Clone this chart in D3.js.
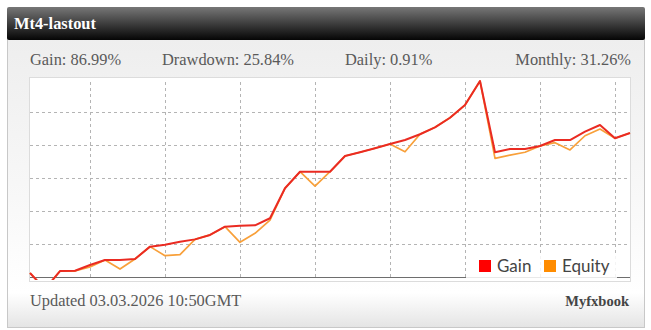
<!DOCTYPE html>
<html>
<head>
<meta charset="utf-8">
<script src="https://cdn.jsdelivr.net/npm/d3@7"></script>
<style>
  body { margin: 0; background: #fff; }
  svg { display: block; }
</style>
</head>
<body>
<script>
'use strict'

// one point per trade, values in %
const points = d3.range(41);
const gain = [2.1, -7.6, 3.3, 3.5, 7.0, 10.0, 10.0, 10.6, 18.1, 19.3,
              21.1, 22.5, 25.2, 30.2, 30.8, 31.0, 35.3, 53.5, 63.5, 63.5,
              63.5, 73.0, 75.3, 77.7, 80.3, 82.7, 86.2, 90.4, 96.2, 103.9,
              118.5, 75.3, 77.3, 77.3, 79.1, 82.7, 82.7, 87.8, 91.8, 83.8,
              86.99];
const equity = [2.1, -7.6, 3.3, 3.3, 5.8, 10.0, 4.5, 10.6, 18.1, 12.6,
                13.3, 22.5, 25.2, 30.2, 20.7, 26.2, 34.2, 53.5, 63.5, 54.8,
                63.5, 73.0, 75.3, 77.7, 80.3, 75.6, 86.2, 90.4, 96.2, 103.9,
                118.5, 71.6, 73.6, 75.3, 79.1, 81.1, 76.7, 85.3, 89.4, 83.8,
                86.99];
const yTicks = [20, 40, 60, 80, 100];
const xTicks = [4, 9, 14, 19, 24, 29, 34, 39];
const stats = ["Gain: 86.99%", "Drawdown: 25.84%", "Daily: 0.91%", "Monthly: 31.26%"];

const w = 651;
const h = 330;
const serif = "'Liberation Serif', 'DejaVu Serif', serif";

const svg = d3.select("body")
	.append("svg")
	.attr("width", w)
	.attr("height", h);

const defs = svg.append("defs");

const headGrad = defs.append("linearGradient")
	.attr("id", "head").attr("x1", 0).attr("y1", 0).attr("x2", 0).attr("y2", 1);
headGrad.append("stop").attr("offset", "0%").attr("stop-color", "#777");
headGrad.append("stop").attr("offset", "100%").attr("stop-color", "#050505");

const bodyGrad = defs.append("linearGradient")
	.attr("id", "bodybg").attr("x1", 0).attr("y1", 0).attr("x2", 0).attr("y2", 1);
bodyGrad.append("stop").attr("offset", "0%").attr("stop-color", "#eeeeee");
bodyGrad.append("stop").attr("offset", "55%").attr("stop-color", "#f8f8f8");
bodyGrad.append("stop").attr("offset", "88%").attr("stop-color", "#ffffff");
bodyGrad.append("stop").attr("offset", "100%").attr("stop-color", "#e4e4e4");

defs.append("clipPath").attr("id", "plotclip")
	.append("rect")
	.attr("x", 29).attr("y", 77)
	.attr("width", 602).attr("height", 203);

// card
svg.append("rect")
	.attr("x", 7.5).attr("y", 38.5)
	.attr("width", 637).attr("height", 289)
	.attr("fill", "url(#bodybg)")
	.attr("stroke", "#c8c8c8");

svg.append("rect")
	.attr("x", 7).attr("y", 7)
	.attr("width", 638).attr("height", 33)
	.attr("rx", 2)
	.attr("fill", "url(#head)");

svg.append("text")
	.attr("x", 14).attr("y", 29)
	.attr("font-family", serif)
	.attr("font-weight", "bold")
	.attr("font-size", 16.4)
	.attr("fill", "#fff")
	.text("Mt4-lastout");

// stats row
const statX = [30, 162, 345, 631];
svg.selectAll(".stat")
	.data(stats)
	.enter()
	.append("text")
	.attr("class", "stat")
	.attr("x", (d, i) => statX[i])
	.attr("y", 65)
	.attr("text-anchor", (d, i) => i === 3 ? "end" : "start")
	.attr("font-family", serif)
	.attr("font-size", 16.4)
	.attr("fill", "#5a5a5a")
	.text((d) => d);

// plot
const xScale = d3.scaleLinear()
	.domain([0, points.length - 1])
	.range([30, 630]);

const yScale = d3.scaleLinear()
	.domain([0, 120])
	.range([276.5, 78.5]);

svg.append("rect")
	.attr("x", 29.5).attr("y", 77.5)
	.attr("width", 601).attr("height", 204)
	.attr("fill", "#fff")
	.attr("stroke", "#dcdcdc");

const yGrid = d3.axisLeft(yScale)
	.tickValues(yTicks)
	.tickSize(-600)
	.tickFormat("");

svg.append("g")
	.attr("class", "grid")
	.attr("transform", "translate(30,0)")
	.call(yGrid);

const xGrid = d3.axisBottom(xScale)
	.tickValues(xTicks)
	.tickSize(-(yScale(0) - yScale(120)))
	.tickFormat("");

svg.append("g")
	.attr("class", "grid")
	.attr("transform", "translate(0," + yScale(0) + ")")
	.call(xGrid);

svg.selectAll(".grid .domain").remove();
svg.selectAll(".grid line")
	.attr("stroke", "#b4b4b4")
	.attr("stroke-dasharray", "3,3")
	.attr("shape-rendering", "crispEdges");

svg.append("line")
	.attr("x1", 30).attr("x2", 630)
	.attr("y1", Math.round(yScale(0)) + 0.5)
	.attr("y2", Math.round(yScale(0)) + 0.5)
	.attr("stroke", "#6e6e6e")
	.attr("stroke-width", 1.2);

const line = (vals) => d3.line()
	.x((d, i) => xScale(i))
	.y((d) => yScale(d))(vals);

const plot = svg.append("g").attr("clip-path", "url(#plotclip)");

plot.append("path")
	.attr("d", line(equity))
	.attr("fill", "none")
	.attr("stroke", "#f8a03a")
	.attr("stroke-width", 1.7)
	.attr("stroke-linejoin", "round");

plot.append("path")
	.attr("d", line(gain))
	.attr("fill", "none")
	.attr("stroke", "#ea2b22")
	.attr("stroke-width", 2)
	.attr("stroke-linejoin", "round");

// legend
const legend = svg.append("g");
legend.append("rect")
	.attr("x", 466).attr("y", 253)
	.attr("width", 151).attr("height", 25)
	.attr("fill", "#fff")
	.attr("opacity", 0.85);

const legendItems = [
	{ name: "Gain", color: "#ff0000", x: 479, tx: 497 },
	{ name: "Equity", color: "#ff8c00", x: 544, tx: 562 }
];

legendItems.forEach((d) => {
	legend.append("rect")
		.attr("x", d.x).attr("y", 260)
		.attr("width", 12).attr("height", 12)
		.attr("fill", d.color);
	legend.append("text")
		.attr("x", d.tx).attr("y", 272)
		.attr("font-family", "'Lato', 'Open Sans', sans-serif")
		.attr("font-size", 17)
		.attr("fill", "#444")
		.text(d.name);
});

// footer
svg.append("text")
	.attr("x", 30).attr("y", 306)
	.attr("font-family", serif)
	.attr("font-size", 16.4)
	.attr("fill", "#5a5a5a")
	.text("Updated 03.03.2026 10:50GMT");

svg.append("text")
	.attr("x", 629).attr("y", 306)
	.attr("text-anchor", "end")
	.attr("font-family", serif)
	.attr("font-weight", "bold")
	.attr("font-size", 14.5)
	.attr("fill", "#444")
	.text("Myfxbook");
</script>
</body>
</html>
